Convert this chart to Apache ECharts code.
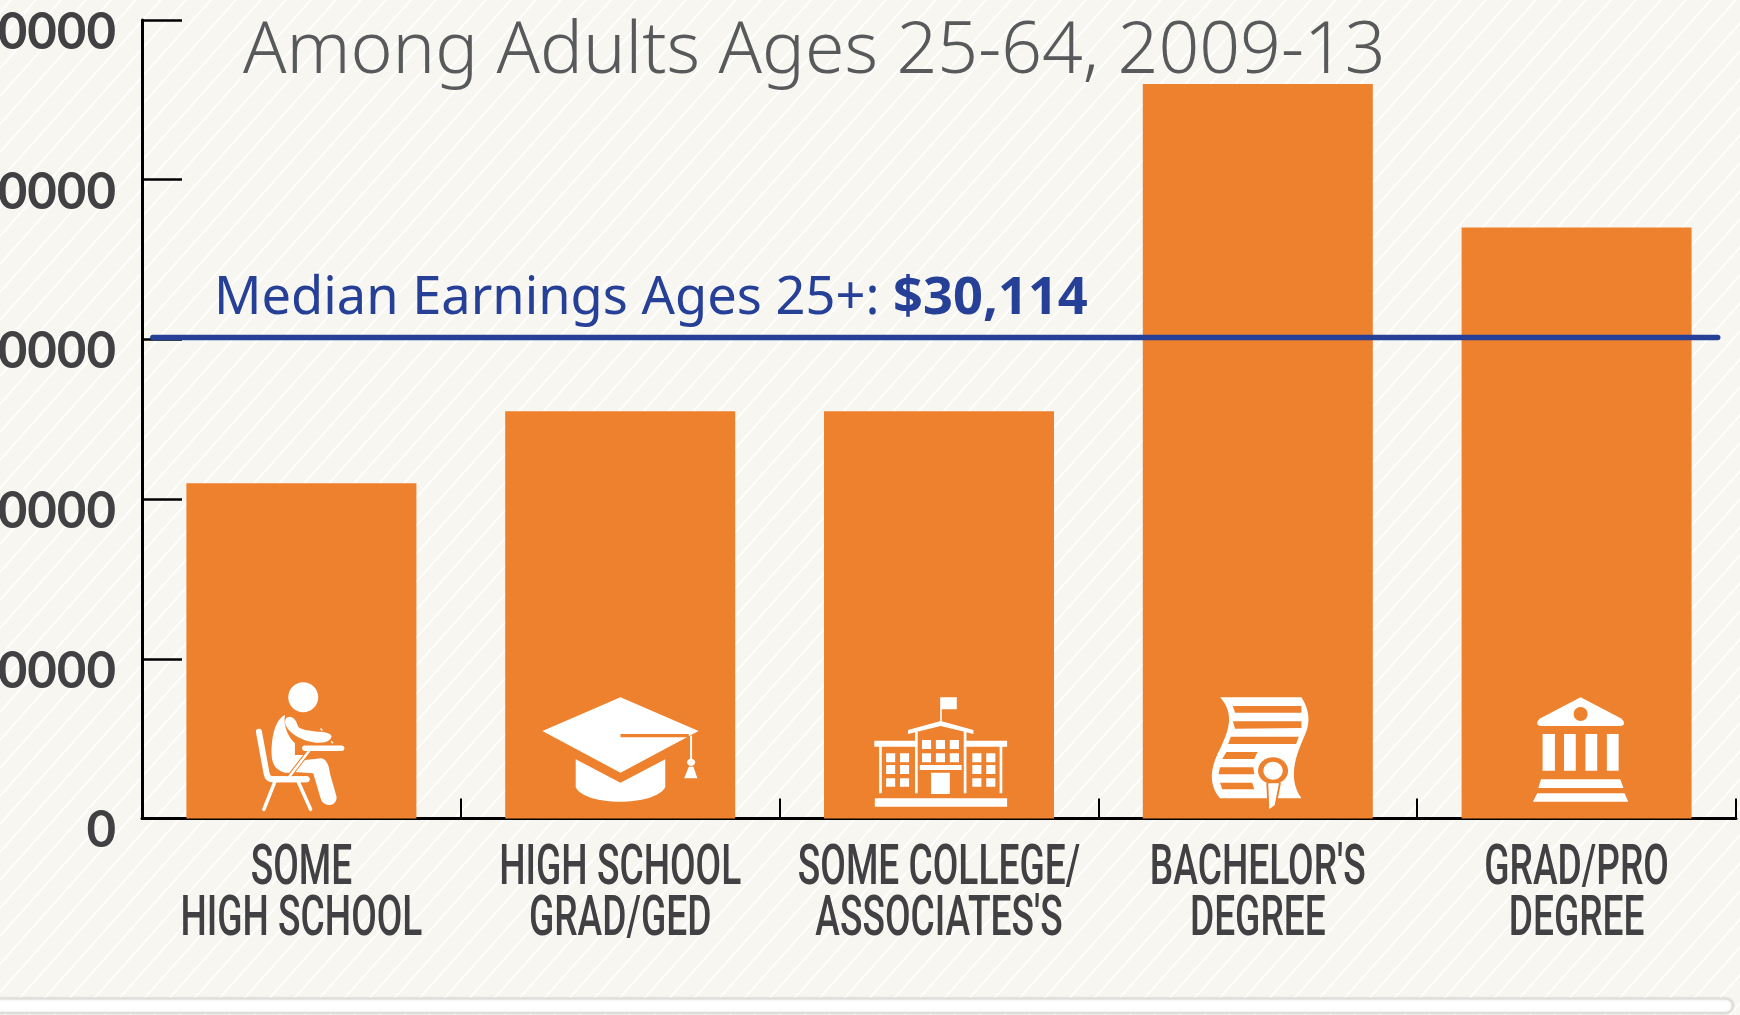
<!DOCTYPE html>
<html><head><meta charset="utf-8">
<style>html,body{margin:0;padding:0;background:#f8f7f2;overflow:hidden}#c{width:1740px;height:1015px}</style>
<script src="https://cdn.jsdelivr.net/npm/echarts@6/dist/echarts.min.js"></script>
</head><body><div id="c"></div>
<script>
const categories = ["SOME\nHIGH SCHOOL","HIGH SCHOOL\nGRAD/GED","SOME COLLEGE/\nASSOCIATES'S","BACHELOR'S\nDEGREE","GRAD/PRO\nDEGREE"];
const earnings = [21000,25500,25500,46000,37000];
const yTicks = [0,10000,20000,30000,40000,50000];
const medianEarnings = 30114;
const medianSpan = [0.0068,0.9885];
const titleText = "Among Adults Ages 25-64, 2009-13";
const medianLabel = "Median Earnings Ages 25+: ";
const medianValueLabel = "$30,114";

const ORANGE='#ed812e', WHITE='#ffffff';
const tile=document.createElement('canvas');tile.width=25;tile.height=28;
(function(){const g=tile.getContext('2d');g.fillStyle='#f7f6f1';g.fillRect(0,0,25,28);g.strokeStyle='#ffffff';g.lineWidth=1.8;
 for(const o of [-28,0,28]){g.beginPath();g.moveTo(-25,28+12+o+28);g.lineTo(50,12+o-28);g.stroke();}})();

const F=(d,c)=>({type:'path',shape:{pathData:d},style:{fill:c||WHITE}});
const L=(d,w,c)=>({type:'path',shape:{pathData:d},style:{fill:'none',stroke:c||WHITE,lineWidth:w,lineCap:'round',lineJoin:'round',strokeNoScale:true}});
const E=(x,y,rx,ry,c)=>({type:'ellipse',shape:{cx:x,cy:y,rx:rx,ry:ry},style:{fill:c||WHITE}});
const R=(rs)=>rs.map(r=>`M${r[0]},${r[1]}L${r[2]},${r[1]}L${r[2]},${r[3]}L${r[0]},${r[3]}Z`).join('');

const icons=[
 {sx:3,x0:154.5,y0:415.5,parts:[
  E(160,52,45,45),
  L('M27,155L50,280Q53,298 70,298L170,298',6),
  L('M75,305L42,388M145,305L182,388',3.5),
  F('M105,105C75,120 65,170 65,220C65,250 75,270 105,278L135,278L170,225L135,225L135,190C115,170 100,140 105,105Z'),
  F('M120,110C135,112 140,125 145,140C155,150 180,152 205,155C225,155 245,160 245,170C240,185 225,188 200,188C165,185 120,165 107,135C103,120 108,110 120,110Z'),
  L('M213,147L216,150M245,185L248,188',1.5),
  F('M165,240L215,235C232,240 238,260 240,280L260,350C262,380 220,385 212,355L190,280L120,275Z'),
  L('M178,212L118,290',4.5,ORANGE),
  L('M178,212L118,290',2.5),
  L('M165,205L275,205',5.5),
  L('M70,298L170,298',6)
 ]},
 {sx:1.742,x0:1080.5,parts:[
  F('M1081,142L1217,243L1081,368L945,243Z'),
  F('M1081,252L1200,252L1200,262L1081,262Z',ORANGE),
  F('M1003,328L1081,398L1159,328L1159,412C1140,470 1020,470 1003,412Z'),
  L('M1204,258L1204,335',1.5),
  E(1204,337,7,11),
  F('M1200,350L1208,350L1215,385L1192,385Z')
 ]},
 {sx:1.867,x0:72.8,parts:[
  F(R([[-47,445,200,470],[75,145,78,215],[75,142,106,178],
     [28,245,33,430],[119,245,124,430],[122,272,200,290],[-48,272,30,290],
     [186,290,191,430],[-39,290,-34,430],
     [135,310,152,337],[161,310,178,337],[135,345,152,372],[161,345,178,372],[135,385,152,410],[161,385,178,410],
     [0,310,17,337],[-26,310,-9,337],[0,345,17,372],[-26,345,-9,372],[0,385,17,410],[-26,385,-9,410],
     [58,368,93,432],[37,345,115,360],
     [41,270,58,297],[67,270,84,297],[93,270,110,297],[41,310,58,337],[67,310,84,337],[93,310,110,337]])),
  F('M76,213L137,240L137,252L76,228L15,252L15,240Z')
 ]},
 {sx:1.867,x0:668.5,parts:[
  F('M598,142L750,142C765,180 768,220 755,260C742,310 722,380 750,445L598,445C575,400 580,350 600,290C615,240 625,190 598,142Z'),
  F('M622,168L750,168L750,188L626,188Z',ORANGE),
  F('M622,214L750,214L750,234L626,236Z',ORANGE),
  F('M618,260L745,260L740,282L613,282Z',ORANGE),
  F('M610,306L668,306L662,327L602,327Z',ORANGE),
  F('M598,352L660,352L662,373L595,373Z',ORANGE),
  F('M598,398L658,398L662,418L602,418Z',ORANGE),
  E(697,362,28,40,ORANGE),
  L('M688,400L708,400L700,465L690,472Z',3,ORANGE),
  F('M688,400L708,400L700,465L690,478Z'),
  E(697,362,18,27,WHITE)
 ]},
 {sx:1.867,x0:1263.5,parts:[
  F('M1271,142L1346,205Q1352,212 1352,220Q1352,228 1344,228L1198,228Q1190,228 1190,220Q1190,212 1196,205Z'),
  E(1271,192,13,21,ORANGE),
  F(R([[1200,252,1223,362],[1240,252,1262,362],[1280,252,1302,362],[1320,252,1342,362]])),
  F('M1197,388L1345,388L1351,414L1192,414Z'),
  F('M1190,430L1353,430L1360,455L1182,455Z')
 ]}
];

const chart=echarts.init(document.getElementById('c'),null,{renderer:'canvas',width:1740,height:1015});
chart.setOption({
 animation:false,
 backgroundColor:{image:tile,repeat:'repeat'},
 title:[
  {text:titleText,left:238,top:12,textStyle:{fontFamily:'Noto Sans',fontWeight:300,fontSize:71.5,color:'#58595b'}},
  {text:`{a|${medianLabel}}{b|${medianValueLabel}}`,left:209,top:268,textStyle:{rich:{
    a:{fontFamily:'Noto Sans',fontWeight:400,fontSize:52.4,color:'#263f97'},
    b:{fontFamily:'Noto Sans',fontWeight:700,fontSize:52.4,color:'#263f97'}}}}
 ],
 grid:{left:142,top:20,width:1594,height:798.5,containLabel:false,outerBoundsMode:'none'},
 xAxis:[
  {type:'category',data:categories,position:'bottom',
   axisLine:{onZero:false,lineStyle:{color:'#000',width:3}},
   axisTick:{show:true,alignWithLabel:false,inside:true,length:20,lineStyle:{color:'#000',width:2}},
   axisLabel:{show:false}},
  {type:'value',min:0,max:1,show:false}
 ],
 yAxis:{type:'value',min:yTicks[0],max:yTicks[yTicks.length-1],interval:10000,
  axisLine:{show:true,lineStyle:{color:'#000',width:3}},
  axisTick:{show:true,inside:true,length:40,lineStyle:{color:'#000',width:2.5}},
  splitLine:{show:false},
  axisLabel:{formatter:v=>`{a|${v}}`,margin:26,showMinLabel:true,showMaxLabel:true,
    rich:{a:{fontFamily:'Lato',fontWeight:700,fontSize:51,color:'#414042',padding:[25,0,0,0]}}}},
 series:[
  {type:'bar',data:earnings,xAxisIndex:0,barWidth:230,itemStyle:{color:ORANGE},z:3},
  {type:'custom',xAxisIndex:0,yAxisIndex:0,data:earnings.map((v,i)=>[i,0]),z:4,silent:true,clip:false,
   renderItem:(p,api)=>{const ic=icons[p.dataIndex];const pt=api.coord([api.value(0),0]);
    const y0=ic.y0||505.5;
    const lines=categories[p.dataIndex].split('\n').map((t,k)=>({type:'text',x:0,y:52+51*k,scaleX:0.675,
      style:{text:t,fontFamily:'Roboto',fontWeight:500,fontSize:55,fill:'#414042',align:'center',verticalAlign:'middle'}}));
    return {type:'group',x:pt[0],y:pt[1],children:[{type:'group',scaleX:1/ic.sx,scaleY:1/3,x:-ic.x0/ic.sx,y:-y0/3,children:ic.parts}].concat(lines)};}},
  {type:'line',xAxisIndex:1,yAxisIndex:0,data:medianSpan.map(x=>[x,medianEarnings]),symbol:'none',z:5,
   lineStyle:{color:'#263f97',width:5.5,cap:'round'}}
 ],
 graphic:[{type:'rect',left:-10,top:998,shape:{width:1742,height:14,r:7},style:{fill:'#ffffff',stroke:'#dcdcd8',lineWidth:1.5,shadowBlur:3,shadowColor:'rgba(0,0,0,0.15)'},z:10}]
});
</script></body></html>
